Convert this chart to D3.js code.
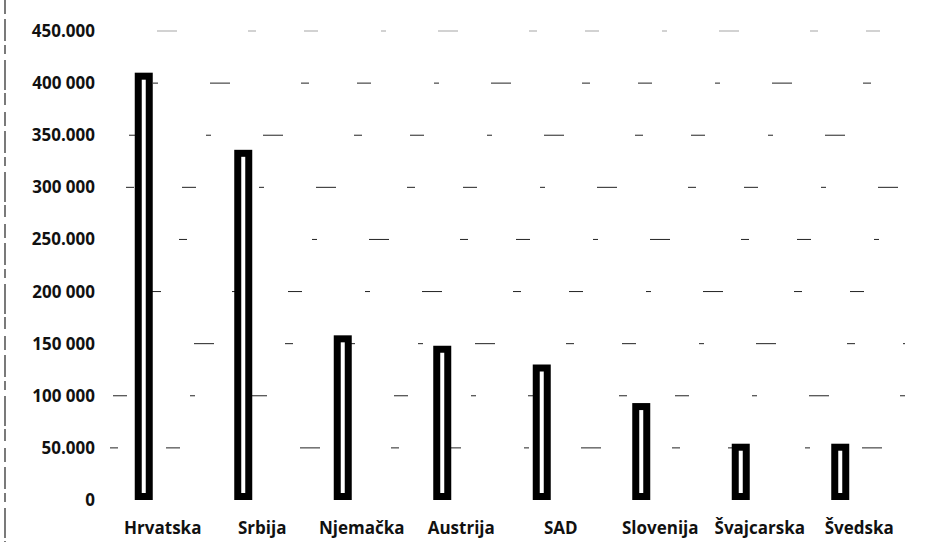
<!DOCTYPE html>
<html>
<head>
<meta charset="utf-8">
<script src="https://cdn.jsdelivr.net/npm/d3@7"></script>
<style>
  body { margin: 0; background: #fff; }
  svg { display: block; }
  .axis text { font-family: "Open Sans", sans-serif; font-weight: 700; fill: #111; }
</style>
</head>
<body>
<div id="chart"></div>
<script>
var width = 929, height = 542;

// data
var countries = ["Hrvatska", "Srbija", "Njemačka", "Austrija", "SAD", "Slovenija", "Švajcarska", "Švedska"];
var values = [410000, 336000, 158000, 148000, 130000, 93000, 54000, 54000];
var tickValues = [0, 50000, 100000, 150000, 200000, 250000, 300000, 350000, 400000, 450000];
var tickLabels = ["0", "50.000", "100 000", "150 000", "200 000", "250.000", "300 000", "350.000", "400 000", "450.000"];

var svg = d3.select("#chart")
    .append("svg")
    .attr("width", width)
    .attr("height", height);

var y = d3.scaleLinear()
    .domain([0, 450000])
    .range([500, 31]);

var x = d3.scaleBand()
    .domain(countries)
    .range([113, 909])
    .padding(0);

// scanned left border line
svg.append("line")
    .attr("x1", 5).attr("x2", 5)
    .attr("y1", 0).attr("y2", height)
    .attr("stroke", "#333")
    .attr("stroke-width", 1.3)
    .attr("stroke-dasharray", "14,5,22,4,9,6,30,3,12,7");

// faint broken gridlines (scan leftovers)
svg.append("g")
    .selectAll("line")
    .data(tickValues.slice(1))
    .enter()
    .append("line")
    .attr("x1", 110)
    .attr("x2", 905)
    .attr("y1", function (d) { return y(d); })
    .attr("y2", function (d) { return y(d); })
    .attr("stroke", "#222")
    .attr("stroke-width", 1)
    .attr("stroke-dasharray", "8,48,14,63,5,52,20,71")
    .attr("stroke-dashoffset", function (d, i) { return i * 53; })
    .attr("opacity", function (d) { return d == 450000 ? 0.4 : 1; });

// y axis labels
var yAxis = d3.axisLeft(y)
    .tickValues(tickValues)
    .tickSize(0)
    .tickPadding(0)
    .tickFormat(function (d, i) { return tickLabels[i]; });

svg.append("g")
    .attr("class", "axis")
    .attr("transform", "translate(95,0)")
    .call(yAxis)
    .call(function (g) { g.select(".domain").remove(); })
    .selectAll("text")
    .style("font-size", "17px");

// x axis labels
var xAxis = d3.axisBottom(x).tickSize(0).tickPadding(0);

svg.append("g")
    .attr("class", "axis")
    .attr("transform", "translate(0,500)")
    .call(xAxis)
    .call(function (g) { g.select(".domain").remove(); })
    .selectAll("text")
    .attr("y", 22)
    .style("font-size", "17px");

// hollow bars
var barW = 18, sw = 7, offset = -19;

svg.append("g")
    .selectAll("rect")
    .data(countries)
    .enter()
    .append("rect")
    .attr("x", function (d) { return x(d) + x.bandwidth() / 2 + offset - barW / 2 + sw / 2; })
    .attr("y", function (d, i) { return y(values[i]) + sw / 2; })
    .attr("width", barW - sw)
    .attr("height", function (d, i) { return y(0) - y(values[i]) - sw; })
    .attr("fill", "#fff")
    .attr("stroke", "#000")
    .attr("stroke-width", sw);
</script>
</body>
</html>
